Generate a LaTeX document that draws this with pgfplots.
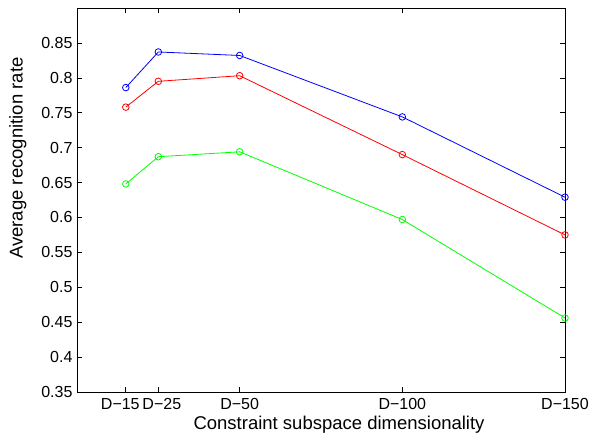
\documentclass[border=0pt]{standalone}
\usepackage{fontspec}
\setmainfont{Liberation Sans}
\usepackage{pgfplots}
\pgfplotsset{compat=1.18}
\begin{document}
\begin{tikzpicture}[x=1pt,y=1pt]
\path[use as bounding box] (-77,-46) rectangle (523,392);
\begin{axis}[
  scale only axis, width=488pt, height=384pt,
  at={(0,0)}, anchor=south west,
  xmin=0, xmax=150, ymin=0.35, ymax=0.9,
  xtick={15,25,50,100,150},
  xticklabels={\hspace*{-11pt}D−15,\hspace*{7pt}D−25,D−50,D−100,D−150},
  ytick={0.35,0.4,0.45,0.5,0.55,0.6,0.65,0.7,0.75,0.8,0.85},
  yticklabels={0.35,0.4,0.45,0.5,0.55,0.6,0.65,0.7,0.75,0.8,0.85},
  tick align=inside, major tick length=5pt,
  tick style={black, line width=0.6pt},
  axis line style={line width=0.9pt},
  ticklabel style={font=\fontsize{16}{19}\selectfont},
  label style={font=\fontsize{18.5}{22}\selectfont},
  xticklabel style={yshift=-3pt},
  yticklabel style={xshift=-1pt},
  xlabel={Constraint subspace dimensionality},
  ylabel={Average recognition rate},
  xlabel style={at={(axis description cs:0.537,-0.086)}, anchor=center},
  ylabel style={at={(axis description cs:-0.121,0.609)}, anchor=center},
  every axis plot/.append style={line width=0.8pt, mark=o, mark size=3.3pt, mark options={line width=0.8pt}},
]
\addplot[color=blue] coordinates {(15,0.786) (25,0.837) (50,0.832) (100,0.744) (150,0.629)};
\addplot[color=red] coordinates {(15,0.758) (25,0.795) (50,0.803) (100,0.690) (150,0.575)};
\addplot[color={rgb,1:red,0;green,1;blue,0}] coordinates {(15,0.648) (25,0.687) (50,0.694) (100,0.597) (150,0.456)};
\end{axis}
\end{tikzpicture}
\end{document}
